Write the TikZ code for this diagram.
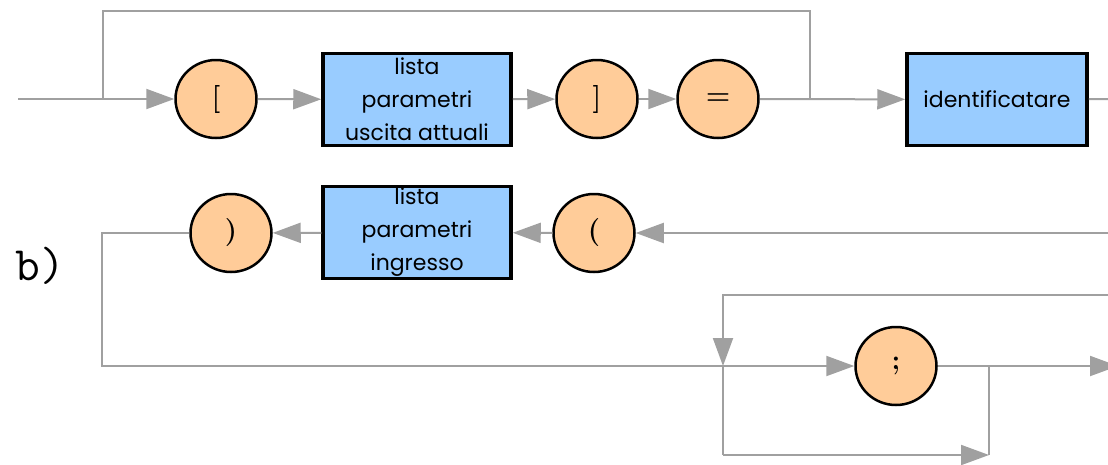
\documentclass[tikz,border=0pt]{standalone}
\usepackage{fontspec}
\newfontfamily\boxfont{Poppins}
\usetikzlibrary{arrows.meta,shapes.geometric}
\definecolor{linegray}{HTML}{A0A0A0}
\definecolor{peach}{HTML}{FFCC99}
\definecolor{lightblue}{HTML}{99CCFF}
\begin{document}
\begin{tikzpicture}[x=1pt,y=-1pt,
  conn/.style={draw=linegray, line width=2pt},
  arr/.style={conn, -{Triangle[length=28pt,width=20pt]}},
  term/.style={ellipse, draw=black, fill=peach, line width=2.5pt,
    minimum width=81pt, minimum height=78pt, inner sep=0pt,
    font=\bfseries\fontsize{28}{28}\selectfont},
  nonterm/.style={rectangle, draw=black, fill=lightblue, line width=3.5pt,
    minimum width=188pt, minimum height=92pt, inner sep=0pt, align=center,
    font=\boxfont\fontsize{22}{33}\selectfont}]
\useasboundingbox (0,0) rectangle (1108,464);
\clip (0,0) rectangle (1108,464);
% row 1
\node[term] (lb) at (216,99) {[};
\node[nonterm] (b1) at (417,99.5) {lista\\parametri\\uscita attuali};
\node[term] (rb) at (597,99) {]};
\node[term] (eq) at (718,99) {=};
\node[nonterm, minimum width=180pt] (id) at (997,99.5) {identificatare};
% row 2
\node[term] (op) at (594,233) {(};
\node[nonterm] (b2) at (417,232.5) {lista\\parametri\\ingresso};
\node[term] (cp) at (231,233) {)};
% row 3
\node[term] (sc) at (896,366) {;};
% label
\node[font=\ttfamily\fontsize{48}{48}\selectfont] (lbl) at (40,266) {b)};
% coordinates
\coordinate (start) at (18,99);
\coordinate (j1) at (103,99);
\coordinate (k1) at (103,11);
\coordinate (k2) at (810,11);
\coordinate (j2) at (810,99);
\coordinate (e1) at (1108,99);
\coordinate (e2) at (1108,233);
\coordinate (c1) at (102,233);
\coordinate (c2) at (102,366);
\coordinate (j3) at (723,366);
\coordinate (j4) at (989,366);
\coordinate (e3) at (1118,366);
\coordinate (t1) at (1108,295);
\coordinate (t2) at (723,295);
\coordinate (bb1) at (723,455);
\coordinate (bb2) at (989,455);
% connectors row 1
\draw[arr] (start) -- (lb);
\draw[conn] (j1) -- (k1) -- (k2) -- (j2);
\draw[arr] (lb) -- (b1);
\draw[arr] (b1) -- (rb);
\draw[arr] (rb) -- (eq);
\draw[arr] (eq) -- (id);
\draw[conn] (id) -- (e1);
% row 2
\draw[arr] (e2) -- (op);
\draw[arr] (op) -- (b2);
\draw[arr] (b2) -- (cp);
\draw[conn] (cp.west) -- (c1) -- (c2) -- (j3);
% row 3
\draw[arr] (j3) -- (sc);
\draw[arr] (sc) -- (e3);
\draw[arr] (t1) -- (t2) -- (j3);
\draw[conn] (j3) -- (bb1);
\draw[arr] (bb1) -- (bb2);
\draw[conn] (bb2) -- (j4);
\end{tikzpicture}
\end{document}
